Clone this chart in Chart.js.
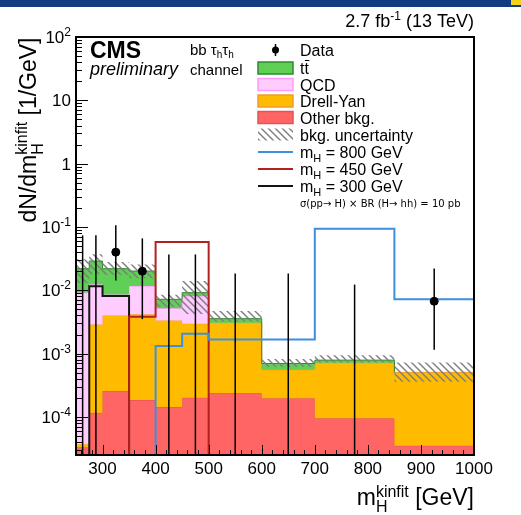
<!DOCTYPE html>
<html>
<head>
<meta charset="utf-8">
<script src="https://cdn.jsdelivr.net/npm/chart.js@4.4.1/dist/chart.umd.min.js"></script>
<style>
  html, body { margin: 0; padding: 0; background: #fff; }
  #wrap { position: relative; width: 521px; height: 515px; }
  #chart { position: absolute; left: 0; top: 0; }
  #banner { position: absolute; left: 0; top: 0; width: 521px; height: 7px; background: #0f3d80; }
  #corner { position: absolute; right: 0; top: 0; width: 10px; height: 5px; background: #f2d21b; }
</style>
</head>
<body>
<div id="wrap">
  <canvas id="chart" width="521" height="515"></canvas>
  <div id="banner"></div><div id="corner"></div>
</div>
<script>
// bins of m_H^kinfit (GeV)
const binEdges = [250, 275, 300, 350, 400, 450, 500, 600, 700, 850, 1000];

// background components, dN/dm (1/GeV), stacked bottom -> top
const otherBkg = [3.3e-5, 1.16e-4, 2.56e-4, 1.84e-4, 1.43e-4, 2.01e-4, 2.39e-4, 1.97e-4, 9.5e-5, 3.5e-5];
const drellYan = [4e-6, 0.00277, 0.00374, 0.00398, 0.00320, 0.00277, 0.00284, 3.6e-4, 6.2e-4, 4.7e-4];
const qcd = [0.00916, 0.00951, 0.0046, 0.00748, 0.00184, 0.00513, 0, 0, 0, 0];
const ttbar = [0.0127, 0.0165, 0.0133, 0.00846, 0.0020, 0.00106, 0.00048, 1.4e-4, 7.2e-5, 0];

// total background uncertainty band
const bkgUncLow = [0.013, 0.018, 0.0175, 0.0155, 0.0055, 0.0042, 0.0032, 0.00062, 0.00072, 0.00036];
const bkgUncHigh = [0.031, 0.037, 0.028, 0.0255, 0.0085, 0.014, 0.0047, 0.00082, 0.00094, 0.00072];

// signals, sigma x BR = 10 pb
const signal800 = [0, 0, 0, 0, 0.00132, 0.00206, 0.00167, 0.00167, 0.094, 0.0072];
const signal450 = [0, 0, 0, 0.0038, 0.058, 0.058, 0, 0, 0, 0];
const signal300 = [0, 0.0116, 0.0081, 0, 0, 0, 0, 0, 0, 0];

// data with poisson intervals
const dataValue = [0, 0, 0.04, 0.02, 0, 0, 0, 0, 0, 0.0067];
const dataErrLow = [0, 0, 0.0142, 0.0035, 0, 0, 0, 0, 0, 0.00115];
const dataErrHigh = [0.0736, 0.0736, 0.106, 0.066, 0.0368, 0.0368, 0.0184, 0.0184, 0.0123, 0.022];

// axis ticks
const xTicks = [300, 400, 500, 600, 700, 800, 900, 1000];
const yDecades = [2, 1, 0, -1, -2, -3, -4];

const Y_MIN = 2.5e-5, Y_MAX = 100;
const FONT = '"Liberation Sans", Arial, Helvetica, sans-serif';
const colOther = ['#ff6565', '#e0564f'];
const colDY = ['#ffbb00', '#f59a2a'];
const colQCD = ['#ffccff', '#ff99ff'];
const colTT = ['#5fcf55', '#2e8b2e'];
const col800 = '#3d8fe0';
const col450 = '#b2201f';
const col300 = '#151515';

const binCenter = binEdges.slice(0, -1).map((e, i) => (e + binEdges[i + 1]) / 2);
const addArr = (a, b) => a.map((v, i) => v + b[i]);
const stackOther = otherBkg;
const stackDY = addArr(stackOther, drellYan);
const stackQCD = addArr(stackDY, qcd);
const stackTT = addArr(stackQCD, ttbar);

// log axis drops zeros, so empty bins sit on the axis floor
function histPoints(vals) {
  const pts = vals.map((v, i) => ({ x: binEdges[i], y: v > 0 ? v : Y_MIN }));
  const last = vals[vals.length - 1];
  pts.push({ x: binEdges[binEdges.length - 1], y: last > 0 ? last : Y_MIN });
  return pts;
}

function hist(label, vals, opts) {
  return Object.assign({
    label,
    data: histPoints(vals),
    stepped: 'before',
    pointRadius: 0,
    borderWidth: 1,
    fill: false
  }, opts);
}

const canvas = document.getElementById('chart');
const ctx = canvas.getContext('2d');

function hatchPattern() {
  const s = 7;
  const c = document.createElement('canvas');
  c.width = s; c.height = s;
  const g = c.getContext('2d');
  g.strokeStyle = '#7d7d7d';
  g.lineWidth = 1.4;
  g.beginPath();
  g.moveTo(0, 0); g.lineTo(s, s);
  g.moveTo(-1, s - 1); g.lineTo(1, s + 1);
  g.moveTo(s - 1, -1); g.lineTo(s + 1, 1);
  g.stroke();
  return ctx.createPattern(c, 'repeat');
}
const hatch = hatchPattern();

// hide border where a component is empty
const hideZero = (comp, color) => c => comp[c.p0DataIndex] === 0 ? 'rgba(0,0,0,0)' : color;

const datasets = [
  hist('Other bkg.', stackOther, { backgroundColor: colOther[0], borderColor: colOther[1], fill: 'start', order: 10 }),
  hist('Drell-Yan', stackDY, { backgroundColor: colDY[0], borderColor: colDY[1], fill: 0, order: 9 }),
  hist('QCD', stackQCD, { backgroundColor: colQCD[0], borderColor: colQCD[1], fill: 1, order: 8,
    segment: { borderColor: hideZero(qcd, colQCD[1]) } }),
  hist('tt', stackTT, { backgroundColor: colTT[0], borderColor: colTT[1], fill: 2, order: 7,
    segment: { borderColor: hideZero(ttbar, colTT[1]) } }),
  hist('unc high', bkgUncHigh, { borderWidth: 0, borderColor: 'rgba(0,0,0,0)', order: 6 }),
  hist('bkg. uncertainty', bkgUncLow, { borderWidth: 0, borderColor: 'rgba(0,0,0,0)', backgroundColor: hatch, fill: 4, order: 5 }),
  hist('m_H = 300 GeV', signal300, { borderColor: col300, borderWidth: 2, order: 4 }),
  hist('m_H = 450 GeV', signal450, { borderColor: col450, borderWidth: 2, order: 3 }),
  hist('m_H = 800 GeV', signal800, { borderColor: col800, borderWidth: 2, order: 2 }),
  {
    label: 'Data',
    data: dataValue.map((v, i) => ({ x: binCenter[i], y: v })).filter(p => p.y > 0),
    showLine: false,
    pointRadius: 4,
    pointBackgroundColor: '#000',
    pointBorderColor: '#000',
    order: 1
  }
];

function setFont(c, size, style) {
  c.font = (style ? style + ' ' : '') + size + 'px ' + FONT;
}

// draws a list of text pieces with offsets (sub/superscripts); returns width
function drawRich(c, x, y, parts, dry) {
  let cx = x;
  parts.forEach(p => {
    setFont(c, p.size, p.style);
    if (!dry) c.fillText(p.t, cx, y + (p.dy || 0));
    if (!p.hold) cx += c.measureText(p.t).width;
  });
  return cx - x;
}

const cmsDecor = {
  id: 'cmsDecor',
  afterDatasetsDraw(chart) {
    const { ctx: c, scales: { x, y } } = chart;
    c.save();
    c.strokeStyle = '#000';
    c.lineWidth = 1.5;
    binCenter.forEach((xc, i) => {
      const px = x.getPixelForValue(xc);
      c.beginPath();
      c.moveTo(px, y.getPixelForValue(dataErrLow[i] > 0 ? dataErrLow[i] : Y_MIN));
      c.lineTo(px, y.getPixelForValue(dataErrHigh[i]));
      c.stroke();
    });
    c.restore();
  },
  afterDraw(chart) {
    const { ctx: c, chartArea: a, scales: { x, y } } = chart;
    c.save();
    c.fillStyle = '#000';
    c.strokeStyle = '#000';
    c.textAlign = 'left';
    c.textBaseline = 'alphabetic';

    // inward ticks
    c.lineWidth = 1;
    c.beginPath();
    for (let v = 260; v < 1000; v += 20) {
      const px = Math.round(x.getPixelForValue(v)) + 0.5;
      const len = v % 100 === 0 ? 10 : 5;
      c.moveTo(px, a.bottom); c.lineTo(px, a.bottom - len);
    }
    for (let k = -5; k <= 1; k++) {
      for (let m = 1; m <= 9; m++) {
        const v = m * Math.pow(10, k);
        if (v < y.min || v > y.max) continue;
        const py = Math.round(y.getPixelForValue(v)) + 0.5;
        c.moveTo(a.left, py); c.lineTo(a.left + (m === 1 ? 12 : 6), py);
      }
    }
    c.stroke();

    // frame
    c.lineWidth = 2;
    c.strokeRect(a.left, a.top, a.right - a.left, a.bottom - a.top);

    // tick labels
    setFont(c, 17);
    c.textAlign = 'center';
    xTicks.forEach(v => c.fillText(String(v), x.getPixelForValue(v), a.bottom + 19));
    c.textAlign = 'left';
    yDecades.forEach(k => {
      const parts = k === 1 ? [{ t: '10', size: 17 }] : k === 0 ? [{ t: '1', size: 17 }]
        : [{ t: '10', size: 17 }, { t: String(k), size: 12, dy: -7 }];
      const w = drawRich(c, 0, 0, parts, true);
      drawRich(c, 71 - w, y.getPixelForValue(Math.pow(10, k)) + 6, parts);
    });

    // axis titles
    const xTitle = [{ t: 'm', size: 23 }, { t: 'H', size: 16, dy: 7, hold: true },
      { t: 'kinfit', size: 16, dy: -8 }, { t: ' [GeV]', size: 23 }];
    const xw = drawRich(c, 0, 0, xTitle, true);
    drawRich(c, a.right - xw, 505, xTitle);

    const yTitle = [{ t: 'dN/dm', size: 23 }, { t: 'H', size: 16, dy: 7, hold: true },
      { t: 'kinfit', size: 16, dy: -9 }, { t: ' [1/GeV]', size: 23 }];
    const yw = drawRich(c, 0, 0, yTitle, true);
    c.save();
    c.translate(36, 130 + yw / 2);
    c.rotate(-Math.PI / 2);
    drawRich(c, 0, 0, yTitle);
    c.restore();

    // luminosity
    const lumi = [{ t: '2.7 fb', size: 18 }, { t: '-1', size: 12, dy: -7 }, { t: ' (13 TeV)', size: 18 }];
    const lw = drawRich(c, 0, 0, lumi, true);
    drawRich(c, a.right - lw, 27, lumi);

    // CMS labels
    setFont(c, 23, 'bold');
    c.fillText('CMS', 90, 58);
    setFont(c, 18, 'italic');
    c.fillText('preliminary', 90, 75);
    drawRich(c, 190, 55, [{ t: 'bb \u03c4', size: 15 }, { t: 'h', size: 10, dy: 3 },
      { t: '\u03c4', size: 15 }, { t: 'h', size: 10, dy: 3 }]);
    setFont(c, 15);
    c.fillText('channel', 190, 75);

    // legend
    const bx = 258, bw = 35, tx = 300;
    const box = (yc, fill, border) => {
      c.fillStyle = fill;
      c.fillRect(bx, yc - 6, bw, 12);
      if (border) {
        c.strokeStyle = border; c.lineWidth = 1.5;
        c.strokeRect(bx, yc - 6, bw, 12);
      }
      c.fillStyle = '#000';
    };
    const line = (yc, color) => {
      c.strokeStyle = color; c.lineWidth = 2;
      c.beginPath(); c.moveTo(bx, yc); c.lineTo(bx + bw, yc); c.stroke();
    };
    const label = (yc, parts) => { c.fillStyle = '#000'; drawRich(c, tx, yc + 6, parts); };

    // Data
    c.beginPath(); c.arc(bx + bw / 2, 50, 3.5, 0, 2 * Math.PI); c.fill();
    c.strokeStyle = '#000'; c.lineWidth = 1.5;
    c.beginPath(); c.moveTo(bx + bw / 2, 44); c.lineTo(bx + bw / 2, 56); c.stroke();
    label(50, [{ t: 'Data', size: 16 }]);

    box(68, colTT[0], colTT[1]);
    label(68, [{ t: 'tt', size: 16 }]);
    setFont(c, 16);
    const tw = c.measureText('t').width;
    c.strokeStyle = '#000'; c.lineWidth = 1;
    c.beginPath(); c.moveTo(tx + tw + 0.5, 60.5); c.lineTo(tx + 2 * tw + 0.5, 60.5); c.stroke();

    box(84.5, colQCD[0], colQCD[1]);
    label(84.5, [{ t: 'QCD', size: 16 }]);
    box(101, colDY[0], colDY[1]);
    label(101, [{ t: 'Drell-Yan', size: 16 }]);
    box(117.5, colOther[0], colOther[1]);
    label(117.5, [{ t: 'Other bkg.', size: 16 }]);
    box(134.5, hatch, null);
    label(134.5, [{ t: 'bkg. uncertainty', size: 16 }]);
    const sigRows = [[152, col800, '800'], [169, col450, '450'], [186, col300, '300']];
    sigRows.forEach(([yc, col, m]) => {
      line(yc, col);
      label(yc, [{ t: 'm', size: 16 }, { t: 'H', size: 11, dy: 4 }, { t: ' = ' + m + ' GeV', size: 16 }]);
    });
    c.font = '10px "DejaVu Sans", sans-serif';
    c.fillText('\u03c3(pp\u2192 H) \u00d7 BR (H\u2192 hh) = 10 pb', tx, 207);

    c.restore();
  }
};

new Chart(ctx, {
  type: 'line',
  data: { datasets },
  options: {
    responsive: false,
    animation: false,
    layout: { padding: { left: 76, right: 47, top: 37, bottom: 60 } },
    scales: {
      x: { type: 'linear', min: 250, max: 1000, display: false },
      y: { type: 'logarithmic', min: Y_MIN, max: Y_MAX, display: false }
    },
    plugins: {
      legend: { display: false },
      tooltip: { enabled: false }
    }
  },
  plugins: [cmsDecor]
});
</script>
</body>
</html>
